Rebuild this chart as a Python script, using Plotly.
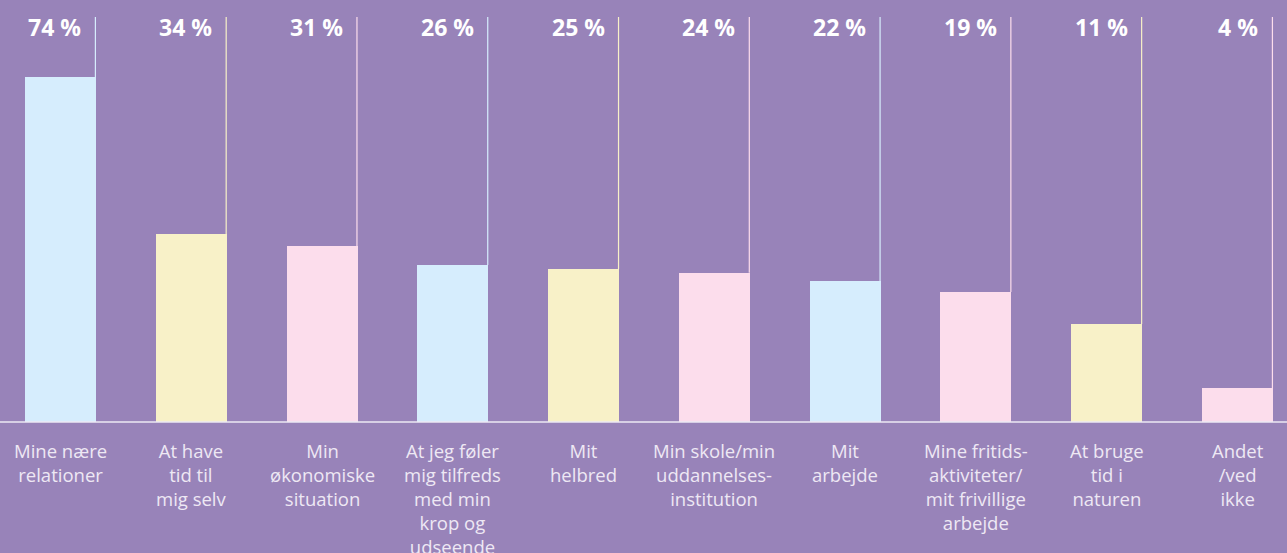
import plotly.graph_objects as go

categories = [
    "Mine nære<br>relationer",
    "At have<br>tid til<br>mig selv",
    "Min<br>økonomiske<br>situation",
    "At jeg føler<br>mig tilfreds<br>med min<br>krop og<br>udseende",
    "Mit<br>helbred",
    "Min skole/min<br>uddannelses-<br>institution",
    "Mit<br>arbejde",
    "Mine fritids-<br>aktiviteter/<br>mit frivillige<br>arbejde",
    "At bruge<br>tid i<br>naturen",
    "Andet<br>/ved<br>ikke",
]
percent_labels = [74, 34, 31, 26, 25, 24, 22, 19, 11, 4]
# bar lengths as drawn in the reference (chart units, tallest = 74)
bar_heights = [74, 40.3, 37.75, 33.7, 32.8, 32.0, 30.2, 27.9, 21.0, 7.3]

BLUE = "#D6EDFD"
YELLOW = "#F8F1C8"
PINK = "#FCDDEC"
bar_colors = [BLUE, YELLOW, PINK, BLUE, YELLOW, PINK, BLUE, PINK, YELLOW, PINK]

BG = "#9883B9"
W, H = 1287, 553
px_per_x = 130.78
px_per_y = 345 / 74.0
base_px = 422
x0 = -60.5 / px_per_x
x1 = x0 + W / px_per_x
y0 = -(H - base_px) / px_per_y
y1 = base_px / px_per_y
bar_w = 71 / px_per_x
line_top = (base_px - 17) / px_per_y
label_y = (base_px - 26.5) / px_per_y

xs = list(range(len(categories)))

fig = go.Figure()
fig.add_trace(go.Bar(
    x=xs, y=bar_heights, width=bar_w,
    marker=dict(color=bar_colors, line=dict(width=0)),
    hoverinfo="skip",
))

shapes = []
annotations = []
for i, (h, c, p, cat) in enumerate(zip(bar_heights, bar_colors, percent_labels, categories)):
    lx = i + bar_w / 2 - 0.6 / px_per_x
    shapes.append(dict(type="line", xref="x", yref="y", x0=lx, x1=lx, y0=h, y1=line_top,
                       line=dict(color=c, width=1.2)))
    annotations.append(dict(x=lx, y=label_y, xref="x", yref="y", text=f"<b>{p} %</b>",
                            showarrow=False, xanchor="right", yanchor="middle", xshift=-12,
                            font=dict(family="Open Sans", size=23, color="#FFFFFF")))
    annotations.append(dict(x=i, y=0, xref="x", yref="y", text=cat, showarrow=False,
                            xanchor="center", yanchor="top", yshift=-14, align="center",
                            font=dict(family="Open Sans", size=18.5, color="#EEE8F4")))

shapes.append(dict(type="line", xref="paper", yref="y", x0=0, x1=1, y0=0, y1=0,
                   line=dict(color="#EDE8F5", width=1.5)))

fig.update_layout(
    width=W, height=H,
    margin=dict(l=0, r=0, t=0, b=0),
    paper_bgcolor=BG, plot_bgcolor=BG,
    showlegend=False,
    xaxis=dict(range=[x0, x1], visible=False, fixedrange=True),
    yaxis=dict(range=[y0, y1], visible=False, fixedrange=True),
    shapes=shapes, annotations=annotations,
    bargap=0,
)

fig.write_html(
    "out.html",
    post_script="document.body.style.margin='0';document.body.style.padding='0';"
                "document.body.style.overflow='hidden';"
                "document.body.style.background='" + BG + "';",
    config={"displayModeBar": False},
)
